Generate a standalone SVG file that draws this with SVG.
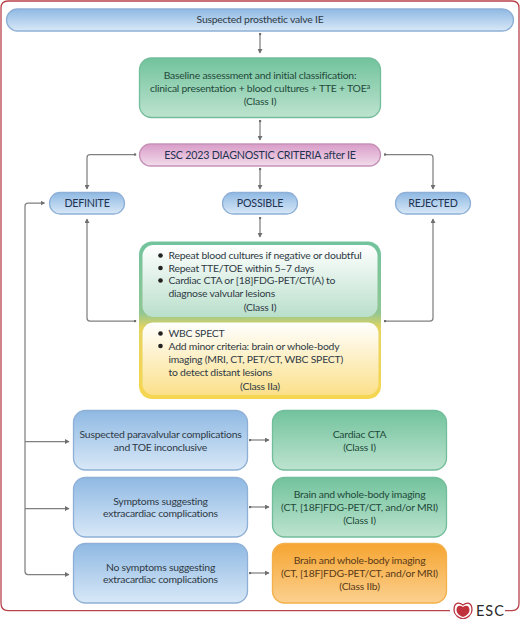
<svg xmlns="http://www.w3.org/2000/svg" width="520" height="619" viewBox="0 0 520 619">
<style>
text{font-family:"Lato","Open Sans","Liberation Sans",sans-serif;font-size:10.4px;letter-spacing:-0.22px;fill:#2f3a45;text-anchor:middle}
.s{text-anchor:start}
.up{font-size:10.7px;fill:#1f3350}
.g text,.g{fill:#1f4a3a}
.c{fill:none;stroke:#808080;stroke-width:1.25}
.blue{fill:url(#blue);stroke:#8fb0d6;stroke-width:1.3}
.green{fill:url(#green);stroke:#72bd9a;stroke-width:1.3}
.orange{fill:url(#orange);stroke:#f4b04a;stroke-width:1.3}
.pink{fill:url(#pink);stroke:#c592b8;stroke-width:1.3}
</style>
<defs>
<linearGradient id="blue" x1="0" y1="0" x2="0" y2="1"><stop offset="0" stop-color="#8fb9e3"/><stop offset="1" stop-color="#d8e8f7"/></linearGradient>
<linearGradient id="green" x1="0" y1="0" x2="0" y2="1"><stop offset="0" stop-color="#72c39d"/><stop offset="1" stop-color="#bde3cf"/></linearGradient>
<linearGradient id="orange" x1="0" y1="0" x2="0" y2="1"><stop offset="0" stop-color="#f6a531"/><stop offset="1" stop-color="#fbd08f"/></linearGradient>
<linearGradient id="pink" x1="0" y1="0" x2="0" y2="1"><stop offset="0" stop-color="#d99cc9"/><stop offset="1" stop-color="#f2dcea"/></linearGradient>
<linearGradient id="frame" x1="0" y1="0" x2="0" y2="1"><stop offset="0" stop-color="#72c39d"/><stop offset="0.45" stop-color="#8fc693"/><stop offset="0.55" stop-color="#e6d45f"/><stop offset="1" stop-color="#f6d650"/></linearGradient>
<linearGradient id="ig" x1="0" y1="0" x2="0" y2="1"><stop offset="0" stop-color="#ffffff"/><stop offset="1" stop-color="#b9dfcb"/></linearGradient>
<linearGradient id="iy" x1="0" y1="0" x2="0" y2="1"><stop offset="0" stop-color="#ffffff"/><stop offset="1" stop-color="#fbe08a"/></linearGradient>
<marker id="a" markerWidth="5" markerHeight="5" refX="4" refY="2.5" orient="auto-start-reverse" markerUnits="userSpaceOnUse"><path d="M0 0L4.500 2.500L0 5z" fill="#6f6f6f"/></marker>
<marker id="d" markerWidth="3" markerHeight="3" refX="1.500" refY="1.500" orient="auto" markerUnits="userSpaceOnUse"><circle cx="1.500" cy="1.500" r="1.300" fill="#6f6f6f"/></marker>
</defs>
<path d="M450 610.700H8Q1 610.700 1 603V8Q1 1 8 1H512Q519 1 519 8V603Q519 610.700 512 610.700H505" fill="none" stroke="#b8434a" stroke-width="1.300"/>
<g id="connectors">
<path class="c" d="M260 34V53" marker-start="url(#d)" marker-end="url(#a)"/>
<path class="c" d="M260 121V140" marker-start="url(#d)" marker-end="url(#a)"/>
<path class="c" d="M260 169V189" marker-start="url(#d)" marker-end="url(#a)"/>
<path class="c" d="M260 218V237" marker-start="url(#d)" marker-end="url(#a)"/>
<path class="c" d="M135 154.500H90Q87 154.500 87 157.500V189" marker-start="url(#d)" marker-end="url(#a)"/>
<path class="c" d="M385 154.500H430Q433 154.500 433 157.500V189" marker-start="url(#d)" marker-end="url(#a)"/>
<path class="c" d="M135 321H90Q87 321 87 318V219" marker-start="url(#d)" marker-end="url(#a)"/>
<path class="c" d="M385 321H430Q433 321 433 318V219" marker-start="url(#d)" marker-end="url(#a)"/>
<path class="c" d="M44.500 203H28Q25 203 25 206V571.500Q25 574.500 28 574.500H69" marker-start="url(#a)" marker-end="url(#a)"/>
<path class="c" d="M25 441.500H69" marker-end="url(#a)"/>
<path class="c" d="M25 508.500H69" marker-end="url(#a)"/>
<path class="c" d="M250 440H269" marker-start="url(#d)" marker-end="url(#a)"/>
<path class="c" d="M250 507H269" marker-start="url(#d)" marker-end="url(#a)"/>
<path class="c" d="M250 573H269" marker-start="url(#d)" marker-end="url(#a)"/>
</g>
<g id="start"><rect class="blue" x="6.500" y="9" width="507" height="22" rx="11"/><text x="260" y="23">Suspected prosthetic valve IE</text></g>
<g id="baseline" class="g"><rect class="green" x="139.500" y="58" width="241" height="59.500" rx="12"/>
<text x="260" y="79">Baseline assessment and initial classification:</text>
<text x="260" y="92">clinical presentation + blood cultures + TTE + TOE<tspan font-size="7.500" dy="-3.500">a</tspan></text>
<text x="260" y="104.500">(Class I)</text></g>
<g id="criteria"><rect class="pink" x="139.500" y="144" width="241" height="22" rx="11"/><text class="up" x="260" y="158.500">ESC 2023 DIAGNOSTIC CRITERIA after IE</text></g>
<g id="definite"><rect class="blue" x="49.500" y="192.500" width="75" height="21.500" rx="10.700"/><text class="up" x="87" y="207">DEFINITE</text></g>
<g id="possible"><rect class="blue" x="222.500" y="192.500" width="75" height="21.500" rx="10.700"/><text class="up" x="260" y="207">POSSIBLE</text></g>
<g id="rejected"><rect class="blue" x="395.500" y="192.500" width="75" height="21.500" rx="10.700"/><text class="up" x="433" y="207">REJECTED</text></g>
<g id="workup">
<rect x="139" y="241.500" width="242" height="157.500" rx="13" fill="url(#frame)"/>
<rect x="142.500" y="245" width="235" height="72" rx="11" fill="url(#ig)"/>
<rect x="142.500" y="322.500" width="236" height="72.500" rx="11" fill="url(#iy)"/>
<circle cx="160.500" cy="255.500" r="2.300" fill="#222"/>
<circle cx="160.500" cy="268" r="2.300" fill="#222"/>
<circle cx="160.500" cy="280.500" r="2.300" fill="#222"/>
<text class="s" x="168.500" y="258.500">Repeat blood cultures if negative or doubtful</text>
<text class="s" x="168.500" y="271.500">Repeat TTE/TOE within 5–7  days</text>
<text class="s" x="168.500" y="284">Cardiac CTA or [18]FDG-PET/CT(A) to</text>
<text class="s" x="168.500" y="297">diagnose valvular lesions</text>
<text x="260" y="310.500">(Class I)</text>
<circle cx="160.500" cy="333.500" r="2.300" fill="#222"/>
<circle cx="160.500" cy="346" r="2.300" fill="#222"/>
<text class="s" x="168.500" y="337">WBC SPECT</text>
<text class="s" x="168.500" y="350">Add minor criteria:  brain or whole-body</text>
<text class="s" x="168.500" y="362.500">imaging (MRI, CT, PET/CT,  WBC SPECT)</text>
<text class="s" x="168.500" y="375.500">to detect distant lesions</text>
<text x="260" y="389.500">(Class IIa)</text>
</g>
<g id="q1"><rect class="blue" x="73.500" y="410.500" width="174" height="59.500" rx="12"/><text x="160.500" y="437.500">Suspected paravalvular complications</text><text x="160.500" y="450.500">and TOE inconclusive</text></g>
<g id="a1" class="g"><rect class="green" x="272.500" y="410.500" width="174" height="59.500" rx="12"/><text x="359.500" y="437.500">Cardiac CTA</text><text x="359.500" y="450.500">(Class I)</text></g>
<g id="q2"><rect class="blue" x="73.500" y="477.500" width="174" height="59.500" rx="12"/><text x="160.500" y="504.500">Symptoms suggesting</text><text x="160.500" y="517">extracardiac complications</text></g>
<g id="a2" class="g"><rect class="green" x="272.500" y="477.500" width="174" height="59.500" rx="12"/><text x="359.500" y="498">Brain and whole-body imaging</text><text x="359.500" y="511">(CT, [18F]FDG-PET/CT, and/or MRI)</text><text x="359.500" y="523.500">(Class I)</text></g>
<g id="q3"><rect class="blue" x="73.500" y="543.500" width="174" height="59.500" rx="12"/><text x="160.500" y="570.500">No symptoms suggesting</text><text x="160.500" y="583">extracardiac complications</text></g>
<g id="a3"><rect class="orange" x="272.500" y="543.500" width="174" height="59.500" rx="12"/><text x="359.500" y="564" style="fill:#5a3a18">Brain and whole-body imaging</text><text x="359.500" y="577" style="fill:#5a3a18">(CT, [18F]FDG-PET/CT, and/or MRI)</text><text x="359.500" y="589.500" style="fill:#5a3a18">(Class IIb)</text></g>
<g id="esc-logo">
<path d="M463 605C459 602 454 602 454 610C454 615 459 618 463 619C467 618 472 615 472 610C472 602 467 602 463 605z" fill="#fff" stroke="#b8333d" stroke-width="1.300"/>
<path d="M463 607C460 604.500 456.500 605.500 456.500 610C456.500 613.500 460 616 463 617C466 616 469.500 613.500 469.500 610C469.500 605.500 466 604.500 463 607z" fill="#c0323c"/>
<text x="476" y="616" class="s" style="font-size:14.500px;fill:#2a2a2a;letter-spacing:1px">ESC</text>
</g>
</svg>
